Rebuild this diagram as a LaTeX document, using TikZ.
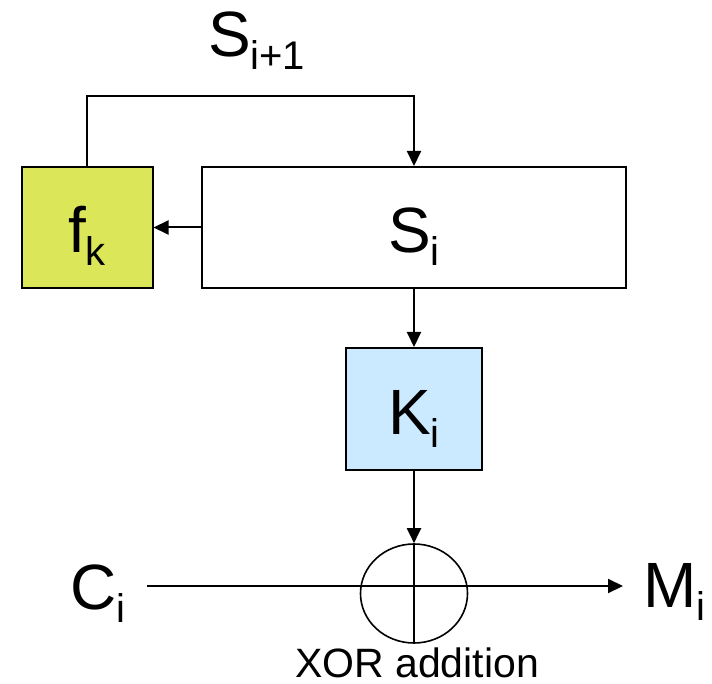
\documentclass[tikz,border=0pt]{standalone}
\usepackage{fontspec}
\setmainfont{Liberation Sans}
\usetikzlibrary{arrows.meta,shapes.geometric}
\definecolor{fkgreen}{HTML}{DBE658}
\definecolor{kblue}{HTML}{CCEAFF}
\newcommand{\sub}[1]{\raisebox{-13pt}{\fontsize{40}{40}\selectfont #1}}
\begin{document}
\begin{tikzpicture}[x=1pt,y=-1pt,line width=2pt,>={Triangle[length=15pt,width=14pt]},
	font=\fontsize{64}{64}\selectfont,
	box/.style={draw,inner sep=0pt,text height=64pt,text depth=13pt,minimum height=121pt},
	lbl/.style={inner sep=0pt}]
	\useasboundingbox (0,0) rectangle (712,684);
	%	Khối
	\node[box,fill=fkgreen,minimum width=131pt] (fk) at (87,227.5) {f\sub{k}};
	\node[box,minimum width=424pt] (si) at (414,227.5) {S\sub{i}};
	\node[box,fill=kblue,minimum width=136pt,minimum height=122pt] (ki) at (414,409) {K\sub{i}};
	\node[draw,ellipse,line width=1.6pt,minimum width=107pt,minimum height=99pt,inner sep=0pt] (xor) at (414,593.5) {};
	%	Nhãn
	\node[lbl,anchor=base west] (snext) at (207,57) {S\sub{i+1}};
	\node[lbl,anchor=base west] (ci) at (69,609) {C\sub{i}};
	\node[lbl,anchor=base west] (mi) at (642,607) {M\sub{i}};
	\node[lbl,anchor=base,font=\fontsize{41}{41}\selectfont] (xorlbl) at (417,677) {XOR addition};
	\path
	(147,586) coordinate (cin)
	(623,586) coordinate (mout)
	;
	%	Mũi tên
	\draw[->] (fk.north)--++(0,-70)-|(si.north);
	\draw[->] (si.west)--(fk.east);
	\draw[->] (si.south)--(ki.north);
	\draw[->] (ki.south)--(xor.north);
	\draw[line width=1.6pt] (xor.north)--(xor.south);
	\draw[->] (cin)--(mout);
\end{tikzpicture}
\end{document}
